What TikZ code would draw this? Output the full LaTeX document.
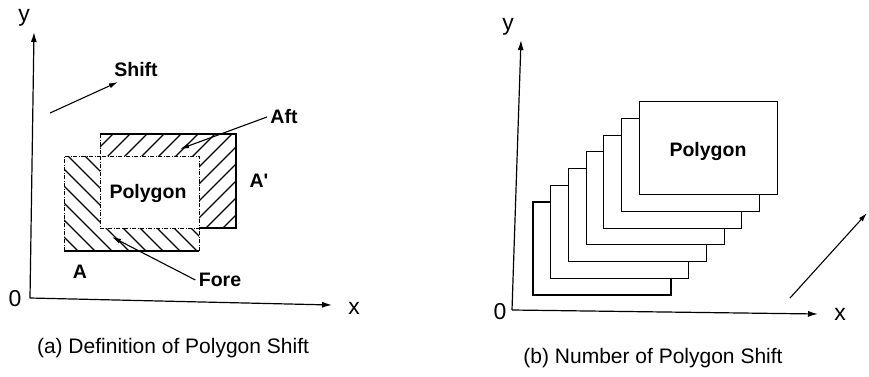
\documentclass[tikz,border=0pt]{standalone}
\usepackage{fontspec}
\setmainfont{Liberation Sans}
\usetikzlibrary{arrows.meta}
\tikzset{
  axis/.style={line width=1.2pt,-{Latex[length=10pt,width=6pt]}},
  pointer/.style={line width=1.1pt,-{Latex[length=9pt,width=5pt]}},
  lbl/.style={font=\fontsize{19.5}{21}\selectfont\bfseries},
  axlbl/.style={font=\fontsize{23}{25}\selectfont},
  caption/.style={font=\fontsize{21}{23}\selectfont},
  hatch/.style={line width=1.2pt},
  edge/.style={line width=0.8pt,dash pattern=on 4pt off 1.5pt on 1pt off 1.5pt},
  rim/.style={line width=1.1pt},
  box/.style={fill=white,line width=1.1pt},
}
\begin{document}
\begin{tikzpicture}[x=1pt,y=-1pt]
  \useasboundingbox (0,0) rectangle (869,376);
  % (a) definition of the shift
  \coordinate (oa) at (30,298);
  \coordinate (ya) at (34,32);
  \coordinate (xa) at (332,305);
  \draw[axis] (oa) -- (ya);
  \draw[axis] (oa) -- (xa);
  \node[axlbl] (ylbla) at (24,18) {y};
  \node[axlbl] (xlbla) at (354,308) {x};
  \node[axlbl] (zeroa) at (15,299) {0};
  % aft part
  \begin{scope}
    \clip (100,134) -- (236,134) -- (236,228) -- (199,228) -- (199,156) -- (100,156) -- cycle;
    \foreach \x in {-20,-3,...,220}
      \draw[hatch] (\x,250) -- ++(120,-120);
  \end{scope}
  % fore part
  \begin{scope}
    \clip (64,156) -- (100,156) -- (100,228) -- (199,228) -- (199,251) -- (64,251) -- cycle;
    \foreach \x in {-50,-33,...,190}
      \draw[hatch] (\x,140) -- ++(130,130);
  \end{scope}
  \draw[rim] (100,134) -- (236,134) -- (236,228) -- (199,228);
  \draw[edge] (100,134) -- (100,156);
  \draw[edge] (100,156) rectangle (199,228);
  \draw[edge] (64,251) -- (64,156) -- (100,156);
  \draw[rim] (64,251) -- (199,251);
  \draw[edge] (199,251) -- (199,228);
  \node[lbl] (polya) at (148,193) {Polygon};
  % labels and pointers
  \coordinate (sha) at (50,113);
  \coordinate (shb) at (118,82);
  \draw[pointer] (sha) -- (shb);
  \node[lbl] (shift) at (136,70) {Shift};
  \node[lbl] (aft) at (284,117) {Aft};
  \coordinate (aftpt) at (180,149);
  \draw[pointer] (aft.west) -- (aftpt);
  \node[lbl] (fore) at (220,280) {Fore};
  \coordinate (forept) at (112,237);
  \draw[pointer] (fore.west) -- (forept);
  \node[lbl] (aprime) at (259,181) {A\textquotesingle};
  \node[lbl] (aorig) at (80,272) {A};
  \node[caption] (capa) at (173,348) {(a) Definition of Polygon Shift};
  % (b) number of shifts
  \coordinate (ob) at (512,310);
  \coordinate (yb) at (521,40);
  \coordinate (xb) at (818,314);
  \draw[axis] (ob) -- (yb);
  \draw[axis] (ob) -- (xb);
  \node[axlbl] (ylblb) at (508,27) {y};
  \node[axlbl] (xlblb) at (840,314) {x};
  \node[axlbl] (zerob) at (500,312) {0};
  \foreach \i in {0,...,6}
    \draw[box] ({533+17.7*\i},{202-16.7*\i}) rectangle ++(138,93);
  \node[lbl] (polyb) at (708,151) {Polygon};
  \coordinate (dira) at (790,298);
  \coordinate (dirb) at (867,213);
  \draw[pointer] (dira) -- (dirb);
  \node[caption] (capb) at (653,358) {(b) Number of Polygon Shift};
\end{tikzpicture}
\end{document}
